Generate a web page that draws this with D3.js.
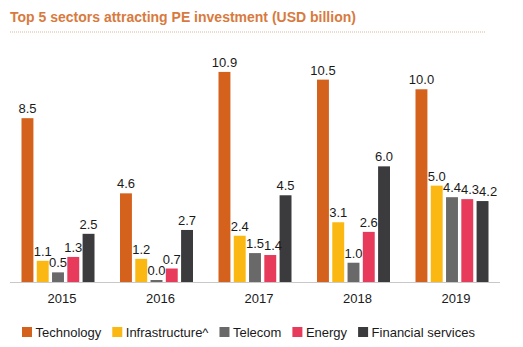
<!DOCTYPE html>
<html>
<head>
<meta charset="utf-8">
<script src="https://cdn.jsdelivr.net/npm/d3@7"></script>
<style>
  body { margin: 0; background: #fff; }
  text { font-family: "Liberation Sans", Arial, sans-serif; }
</style>
</head>
<body>
<div id="chart"></div>
<script>
// données
const years = ["2015", "2016", "2017", "2018", "2019"];
const sectors = ["Technology", "Infrastructure^", "Telecom", "Energy", "Financial services"];
const technology = [8.5, 4.6, 10.9, 10.5, 10.0];
const infrastructure = [1.1, 1.2, 2.4, 3.1, 5.0];
const telecom = [0.5, 0.0, 1.5, 1.0, 4.4];
const energy = [1.3, 0.7, 1.4, 2.6, 4.3];
const financial = [2.5, 2.7, 4.5, 6.0, 4.2];

const colors = ["#d4621c", "#fbb812", "#696969", "#e83b5c", "#3b3b3d"];
const series = [technology, infrastructure, telecom, energy, financial];

const width = 523, height = 347;

const svg = d3.select("#chart")
    .append("svg")
    .attr("width", width)
    .attr("height", height);

// titre + ligne pointillée
svg.append("text")
    .attr("x", 10)
    .attr("y", 22)
    .attr("font-size", 14)
    .attr("font-weight", "bold")
    .attr("fill", "#d87a3e")
    .text("Top 5 sectors attracting PE investment (USD billion)");

svg.append("line")
    .attr("x1", 10).attr("x2", 485)
    .attr("y1", 32).attr("y2", 32)
    .attr("stroke", "#d9b8a0")
    .attr("stroke-width", 1)
    .attr("stroke-dasharray", "1,1");

// échelles
const x0 = d3.scaleBand().domain(years).range([12.75, 505.25]);
const x1 = d3.scaleBand().domain(d3.range(sectors.length)).range([0, 73]).paddingInner(0.22);
const y = d3.scaleLinear().domain([0, 11]).range([282, 70]);

const groups = svg.selectAll(".year")
    .data(years)
    .enter()
    .append("g")
    .attr("class", "year")
    .attr("transform", d => `translate(${x0(d) + x0.bandwidth() / 2 - 40.5},0)`);

const barTop = v => v === 0 ? y(0) - 2 : y(v);

groups.selectAll("rect")
    .data((d, i) => series.map((s, k) => ({ k, v: s[i] })))
    .enter()
    .append("rect")
    .attr("x", d => x1(d.k))
    .attr("width", x1.bandwidth())
    .attr("y", d => barTop(d.v))
    .attr("height", d => y(0) - barTop(d.v))
    .attr("fill", d => colors[d.k]);

// étiquettes de valeurs, décalées à droite si elles se chevauchent
groups.each(function(yr, i) {
    const g = d3.select(this);
    let prev = null;
    series.forEach((s, k) => {
        const v = s[i];
        const t = g.append("text")
            .attr("class", "val")
            .attr("text-anchor", "middle")
            .attr("font-size", 13)
            .attr("fill", "#1a1a1a")
            .text(v.toFixed(1));
        let cx = x1(k) + x1.bandwidth() / 2;
        const by = barTop(v) - 5;
        const w = t.node().getComputedTextLength();
        if (prev && Math.abs(prev.y - by) < 10 && cx - w / 2 < prev.right) {
            cx = prev.right + w / 2;
        }
        t.attr("x", cx).attr("y", by);
        prev = { right: cx + w / 2, y: by };
    });
});

// axe des x
const xAxis = svg.append("g")
    .attr("transform", `translate(0,${y(0)})`)
    .call(d3.axisBottom(x0).tickSize(0).tickPadding(12));
xAxis.select(".domain").attr("stroke", "#c8c8c8").attr("d", "M10,0.5H500");
xAxis.selectAll("text")
    .attr("font-size", 13)
    .attr("fill", "#1a1a1a")
    .style("font-family", "'Liberation Sans', Arial, sans-serif");

// légende
const legend = svg.append("g").attr("transform", "translate(22,332)");
let lx = 0;
sectors.forEach((name, i) => {
    const g = legend.append("g").attr("transform", `translate(${lx},0)`);
    g.append("rect")
        .attr("x", 0).attr("y", -5)
        .attr("width", 10).attr("height", 10)
        .attr("fill", colors[i]);
    const t = g.append("text")
        .attr("x", 13.5).attr("y", 4.5)
        .attr("font-size", 13)
        .attr("fill", "#1a1a1a")
        .text(name);
    lx += 13.5 + t.node().getComputedTextLength() + 11;
});
</script>
</body>
</html>
